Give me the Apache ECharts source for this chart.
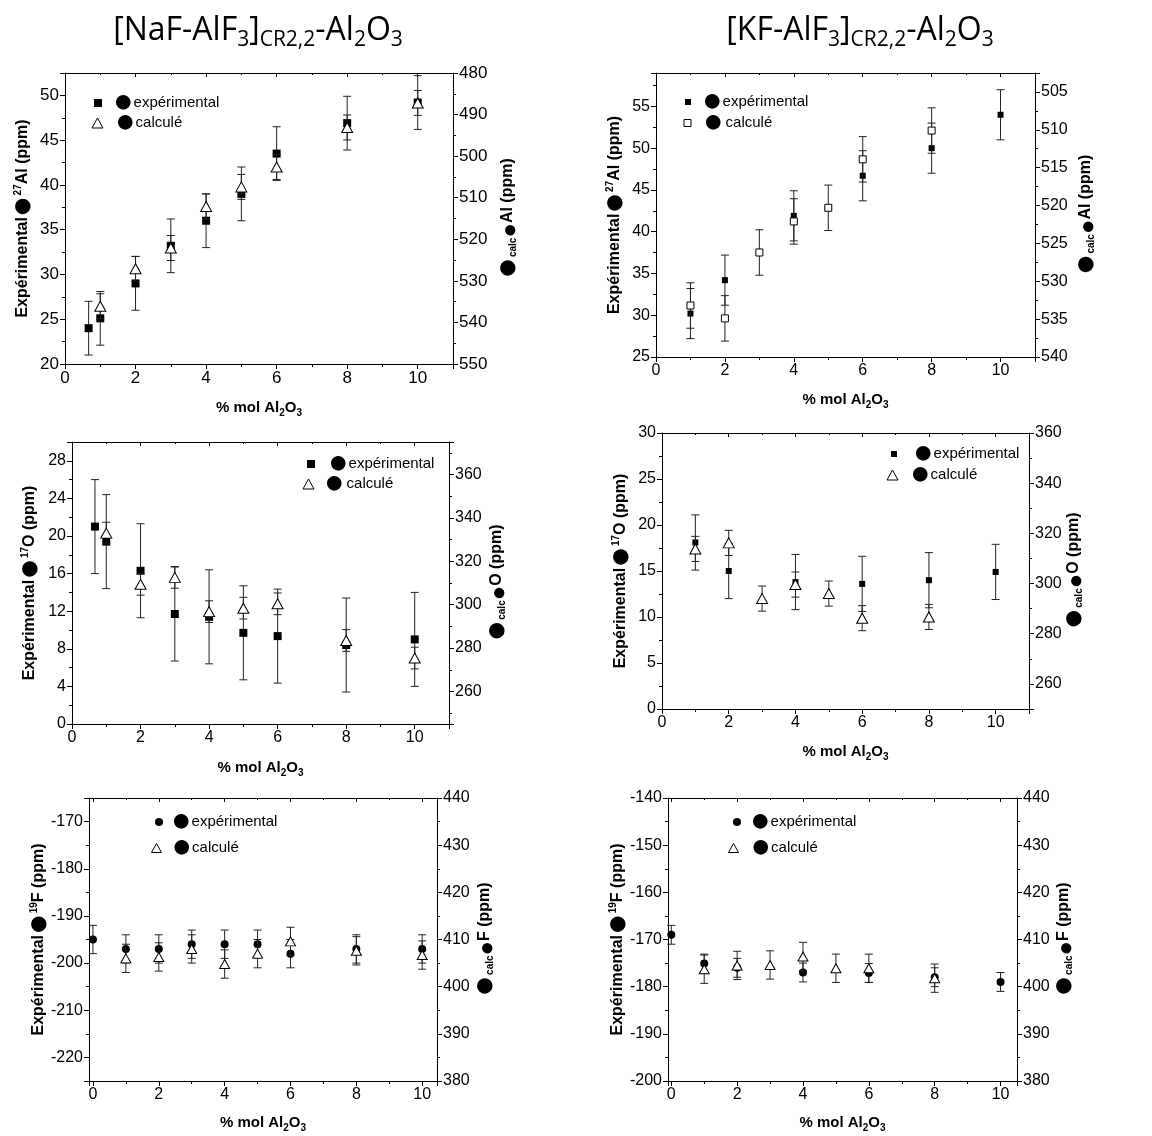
<!DOCTYPE html>
<html><head><meta charset="utf-8">
<script src="https://cdn.jsdelivr.net/npm/echarts@6/dist/echarts.min.js"></script>
<style>html,body{margin:0;padding:0;background:#fff}#c{width:1152px;height:1136px}</style>
</head><body><div id="c"></div>
<script>
// ---------- DATA ----------
// Panel 1: [NaF-AlF3] 27Al
const na27X = [0.67, 1, 2, 3, 4, 5, 6, 8, 10];
const na27Exp = [24.0, 25.1, 29.0, 33.2, 36.0, 39.0, 43.5, 46.9, 49.2];
const na27ExpErr = [3, 3, 3, 3, 3, 3, 3, 3, 3];
const na27CalcX = [1, 2, 3, 4, 5, 6, 8, 10];
const na27Calc = [536.1, 527.1, 522.1, 512.1, 507.4, 502.6, 493.1, 487.2];
const na27CalcErr = [3, 3, 3, 3, 3, 3, 3, 3];
// Panel 2: [KF-AlF3] 27Al
const k27X = [1, 2, 4, 6, 8, 10];
const k27Exp = [30.2, 34.2, 41.9, 46.7, 50.0, 54.0];
const k27ExpErr = [3, 3, 3, 3, 3, 3];
const k27CalcX = [1, 2, 3, 4, 5, 6, 8];
const k27Calc = [533.2, 534.9, 526.2, 522.1, 520.3, 513.9, 510.1];
const k27CalcErr = [3, 3, 3, 3, 3, 3, 3];
// Panel 3: [NaF-AlF3] 17O
const na17X = [0.67, 1, 2, 3, 4, 5, 6, 8, 10];
const na17Exp = [21.0, 19.4, 16.3, 11.7, 11.4, 9.7, 9.35, 8.4, 9.0];
const na17ExpErr = [5, 5, 5, 5, 5, 5, 5, 5, 5];
const na17CalcX = [1, 2, 3, 4, 5, 6, 8, 10];
const na17Calc = [333.0, 309.4, 312.6, 296.8, 298.4, 300.4, 283.5, 275.4];
const na17CalcErr = [5, 5, 5, 5, 5, 5, 5, 5];
// Panel 4: [KF-AlF3] 17O
const k17X = [1, 2, 4, 6, 8, 10];
const k17Exp = [18.1, 15.0, 13.8, 13.6, 14.0, 14.9];
const k17ExpErr = [3, 3, 3, 3, 3, 3];
const k17CalcX = [1, 2, 3, 4, 5, 6, 8];
const k17Calc = [313.8, 316.2, 294.0, 299.6, 296.0, 286.2, 286.7];
const k17CalcErr = [5, 5, 5, 5, 5, 5, 5];
// Panel 5: [NaF-AlF3] 19F
const na19X = [0, 1, 2, 3, 4, 5, 6, 8, 10];
const na19Exp = [-195, -197, -197, -196, -196, -196, -198, -197, -197];
const na19ExpErr = [3, 3, 3, 3, 3, 3, 3, 3, 3];
const na19CalcX = [1, 2, 3, 4, 5, 6, 8, 10];
const na19Calc = [406.0, 406.3, 408.0, 404.8, 407.0, 409.6, 407.6, 406.7];
const na19CalcErr = [3, 3, 3, 3, 3, 3, 3, 3];
// Panel 6: [KF-AlF3] 19F
const k19X = [0, 1, 2, 4, 6, 8, 10];
const k19Exp = [-169, -175.1, -176, -177, -177.1, -178, -179];
const k19ExpErr = [2, 2, 2, 2, 2, 2, 2];
const k19CalcX = [1, 2, 3, 4, 5, 6, 8];
const k19Calc = [403.7, 404.5, 404.6, 406.4, 403.9, 403.9, 401.8];
const k19CalcErr = [3, 3, 3, 3, 3, 3, 3];

const legendExp = 'expérimental';
const legendCalc = 'calculé';
const xName = '% mol Al{sub|2}O{sub|3}';

// ---------- LAYOUT ----------
const FONT = 'Liberation Sans, Arial, sans-serif';
const panels = [
  { grid:[65,73,388,291], x:[0,11,2], yl:[20,52.5,5], yr:[480,550,10], rInv:true, fs:17, nucl:'27', el:'Al',
    ex:na27X, ey:na27Exp, ee:na27ExpErr, cx:na27CalcX, cy:na27Calc, ce:na27CalcErr,
    eSym:'rect', eSize:8, cSym:'triangle', cSize:[11,10], cFill:'#fff',
    lg:[[98,102,123,133],[97,122,125,133]], lgi:[8,8,11,10], gx:34, gl:32, gr:45 },
  { grid:[656,73,379,284], x:[0,11,2], yl:[25,59,5], yr:[502.5,540,5], rInv:true, fs:16, nucl:'27', el:'Al',
    ex:k27X, ey:k27Exp, ee:k27ExpErr, cx:k27CalcX, cy:k27Calc, ce:k27CalcErr,
    eSym:'rect', eSize:6, cSym:'rect', cSize:7, cFill:'#fff',
    lg:[[688,101,712,719],[687,122,713,725]], lgi:[6,6,7,7], gx:33, gl:31, gr:41 },
  { grid:[72,442,377,282], x:[0,11,2], yl:[0,30,4], yr:[245,375,20], rInv:false, fs:16, nucl:'17', el:'O',
    ex:na17X, ey:na17Exp, ee:na17ExpErr, cx:na17CalcX, cy:na17Calc, ce:na17CalcErr,
    eSym:'rect', eSize:8, cSym:'triangle', cSize:[11,10], cFill:'#fff',
    lg:[[311,463,338,347],[308,483,334,346]], lgi:[8,8,11,10], gx:34, gl:32, gr:38 },
  { grid:[662,433,367,276], x:[0,11,2], yl:[0,30,5], yr:[250,360,20], rInv:false, fs:16, nucl:'17', el:'O',
    ex:k17X, ey:k17Exp, ee:k17ExpErr, cx:k17CalcX, cy:k17Calc, ce:k17CalcErr,
    eSym:'rect', eSize:6, cSym:'triangle', cSize:[11,10], cFill:'#fff',
    lg:[[894,453,923,930],[892,474,920,929]], lgi:[6,6,11,10], gx:33, gl:31, gr:35 },
  { grid:[89,798,348,283], x:[-0.12,10.45,2], yl:[-225,-165,10], yr:[380,440,10], rInv:false, fs:16, nucl:'19', el:'F',
    ex:na19X, ey:na19Exp, ee:na19ExpErr, cx:na19CalcX, cy:na19Calc, ce:na19CalcErr,
    eSym:'circle', eSize:8, cSym:'triangle', cSize:[10,9], cFill:'#fff',
    lg:[[159,821,181,190],[156,847,181,190]], lgi:[8,8,10,9], gx:32, gl:40, gr:38 },
  { grid:[668,798,349,283], x:[-0.1,10.5,2], yl:[-200,-140,10], yr:[380,440,10], rInv:false, fs:16, nucl:'19', el:'F',
    ex:k19X, ey:k19Exp, ee:k19ExpErr, cx:k19CalcX, cy:k19Calc, ce:k19CalcErr,
    eSym:'circle', eSize:8, cSym:'triangle', cSize:[10,9], cFill:'#fff',
    lg:[[737,821,760,769],[733,847,760,769]], lgi:[8,8,10,9], gx:32, gl:40, gr:37 }
];

function fmt(step){
  return v => (Math.abs(v/step - Math.round(v/step)) < 1e-6) ? String(Math.round(v*1000)/1000) : '';
}
const nameRich = {
  d:{fontSize:36, lineHeight:20, color:'#000', fontFamily:FONT},
  sup:{fontSize:10, fontWeight:'bold', verticalAlign:'top', lineHeight:9, color:'#000', fontFamily:FONT},
  sup2:{fontSize:24, verticalAlign:'top', lineHeight:14, color:'#000', fontFamily:FONT},
  sub:{fontSize:10, fontWeight:'bold', verticalAlign:'bottom', lineHeight:8, color:'#000', fontFamily:FONT}
};
function nameStyle(){
  return {fontSize:16, fontWeight:'bold', color:'#000', fontFamily:FONT, lineHeight:20, rich:nameRich};
}
function valAxis(gi, rng, fs, extra){
  const [min,max,step] = rng;
  const a = {
    type:'value', gridIndex:gi, min, max, minInterval:step, maxInterval:step,
    splitNumber:Math.max(1, Math.round((max-min)/step)), scale:true,
    splitLine:{show:false},
    axisLine:{show:true, onZero:false, lineStyle:{color:'#000', width:1}},
    axisTick:{show:true, inside:false, length:5, lineStyle:{color:'#000', width:1}},
    minorTick:{show:true, splitNumber:2, length:3, lineStyle:{color:'#000', width:1}},
    axisLabel:{show:true, color:'#000', fontSize:fs, fontFamily:FONT, margin:6, formatter:fmt(step),
      showMinLabel:true, showMaxLabel:true, hideOverlap:false},
    nameMoveOverlap:false
  };
  return Object.assign(a, extra || {});
}

const grids = [], xAxes = [], yAxes = [], series = [], legends = [];
function errSeries(gi, side, xs, ys, es, z){
  return { type:'custom', xAxisIndex:gi*2, yAxisIndex:gi*2+side, z, silent:true, clip:false, animation:false,
    data: xs.map((x,i)=>[x, ys[i], es[i]]), encode:{x:0, y:1},
    renderItem:(params, api)=>{
      const x=api.value(0), y=api.value(1), e=api.value(2);
      const p1=api.coord([x,y+e]), p2=api.coord([x,y-e]);
      const st={stroke:'#222', lineWidth:1}, cap=4;
      return {type:'group', children:[
        {type:'line', shape:{x1:p1[0],y1:p1[1],x2:p2[0],y2:p2[1]}, style:st},
        {type:'line', shape:{x1:p1[0]-cap,y1:p1[1],x2:p1[0]+cap,y2:p1[1]}, style:st},
        {type:'line', shape:{x1:p2[0]-cap,y1:p2[1],x2:p2[0]+cap,y2:p2[1]}, style:st}
      ]};
    } };
}
const BLOB = 34, BW = 0.604 * BLOB;
function legendItem(name, icon, w, h, itemStyle, pos, label){
  const [cx, cy, bx, tx] = pos;
  const left = cx - w/2, ts = left + w + 5;
  const pl = Math.max(0, Math.round(bx - BW/2 - ts));
  const pr = Math.max(0, Math.round(tx - (bx + BW/2)));
  return { orient:'vertical', left, top: cy - 16, itemWidth:w, itemHeight:h, padding:0, selectedMode:false,
    data:[{name, icon, itemStyle}], formatter: () => '{d|●}' + label,
    textStyle:{fontSize:15, fontFamily:FONT, color:'#000', lineHeight:18,
      rich:{d:{fontSize:BLOB, lineHeight:18, color:'#000', padding:[0,pr,0,pl], fontFamily:FONT}}} };
}

panels.forEach((p, i) => {
  const [l,t,w,h] = p.grid;
  grids.push({left:l, top:t, width:w, height:h, containLabel:false, outerBoundsMode:'none', show:false});
  xAxes.push(valAxis(i, p.x, p.fs, {position:'bottom', name:xName, nameLocation:'middle', nameGap:p.gx,
    nameTextStyle:Object.assign(nameStyle(), {fontSize:15})}));
  const top = valAxis(i, p.x, p.fs, {position:'top'});
  top.axisLabel = {show:false};
  top.axisTick = {show:true, inside:true, length:4, lineStyle:{color:'#000'}};
  top.minorTick = {show:true, splitNumber:2, length:2, lineStyle:{color:'#000'}};
  xAxes.push(top);
  yAxes.push(valAxis(i, p.yl, p.fs, {position:'left',
    name:'Expérimental{d|●}{sup|' + p.nucl + '}' + p.el + ' (ppm)', nameLocation:'middle', nameRotate:90, nameGap:p.gl,
    nameTextStyle:nameStyle()}));
  yAxes.push(valAxis(i, p.yr, p.fs, {position:'right', inverse:p.rInv,
    name:'{d|●}{sub|calc}{sup2|●}' + p.el + ' (ppm)', nameLocation:'middle', nameRotate:90, nameGap:p.gr,
    nameTextStyle:nameStyle()}));

  const en = 'exp' + i, cn = 'calc' + i;
  series.push(errSeries(i, 0, p.ex, p.ey, p.ee, 2));
  series.push({ type:'scatter', name:en, xAxisIndex:i*2, yAxisIndex:i*2, z:3, animation:false,
    symbol:p.eSym, symbolSize:p.eSize, itemStyle:{color:'#000', opacity:1},
    data:p.ex.map((x,k)=>[x, p.ey[k]]) });
  series.push(errSeries(i, 1, p.cx, p.cy, p.ce, 4));
  series.push({ type:'scatter', name:cn, xAxisIndex:i*2, yAxisIndex:i*2+1, z:5, animation:false,
    symbol:p.cSym, symbolSize:p.cSize, itemStyle:{color:p.cFill, borderColor:'#000', borderWidth:1, opacity:1},
    data:p.cx.map((x,k)=>[x, p.cy[k]]) });
  const li = p.lgi;
  legends.push(legendItem(en, p.eSym, li[0], li[1], {color:'#000', borderWidth:0}, p.lg[0], legendExp));
  legends.push(legendItem(cn, p.cSym, li[2], li[3], {color:p.cFill, borderColor:'#000', borderWidth:1}, p.lg[1], legendCalc));
});

const titleRich = {s:{fontSize:21, fontFamily:'Open Sans, Noto Sans, sans-serif', verticalAlign:'bottom', lineHeight:4, fill:'#000'}};
const option = {
  backgroundColor:'#fff',
  animation:false,
  grid:grids, xAxis:xAxes, yAxis:yAxes, series, legend:legends,
  graphic:[
    {type:'text', x:258, y:31, style:{text:'[NaF-AlF{s|3}]{s|CR2,2}-Al{s|2}O{s|3}', fill:'#000', fontSize:32,
      fontFamily:'Open Sans, Noto Sans, sans-serif', lineHeight:40, align:'center', verticalAlign:'middle', rich:titleRich}},
    {type:'text', x:860, y:31, style:{text:'[KF-AlF{s|3}]{s|CR2,2}-Al{s|2}O{s|3}', fill:'#000', fontSize:32,
      fontFamily:'Open Sans, Noto Sans, sans-serif', lineHeight:40, align:'center', verticalAlign:'middle', rich:titleRich}}
  ]
};
const chart = echarts.init(document.getElementById('c'), null, {renderer:'canvas'});
chart.setOption(option);
</script></body></html>
